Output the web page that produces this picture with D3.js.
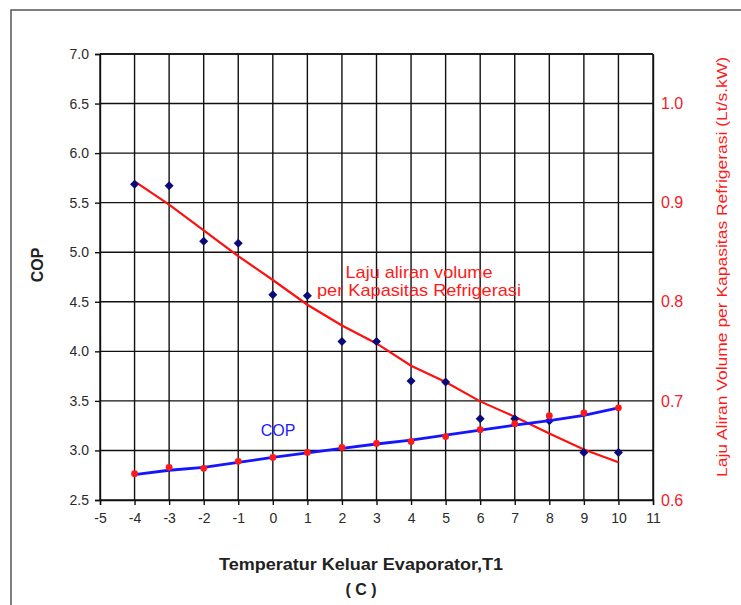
<!DOCTYPE html>
<html>
<head>
<meta charset="utf-8">
<script src="https://cdn.jsdelivr.net/npm/d3@7"></script>
<style>
  body { margin: 0; background: #fff; }
  text { font-family: "Liberation Sans", Arial, sans-serif; }
</style>
</head>
<body>
<div id="chart"></div>
<script>
// Data
var temps = [-4, -3, -2, -1, 0, 1, 2, 3, 4, 5, 6, 7, 8, 9, 10]
var copPoints = [2.765, 2.83, 2.82, 2.89, 2.93, 2.98, 3.03, 3.07, 3.09, 3.14, 3.21, 3.27, 3.35, 3.38, 3.43]
var copLine = [2.755, 2.80, 2.83, 2.88, 2.93, 2.975, 3.02, 3.065, 3.105, 3.155, 3.205, 3.255, 3.30, 3.355, 3.43]
var navyPoints = [5.685, 5.67, 5.11, 5.09, 4.57, 4.56, 4.10, 4.10, 3.70, 3.69, 3.32, 3.32, 3.30, 2.98, 2.98]
var flowLine = [0.9215, 0.898, 0.872, 0.846, 0.822, 0.797, 0.776, 0.758, 0.7355, 0.719, 0.6995, 0.684, 0.667, 0.651, 0.638]
var xTicks = d3.range(-5, 12)
var leftTicks = [2.5, 3.0, 3.5, 4.0, 4.5, 5.0, 5.5, 6.0, 6.5, 7.0]
var rightTicks = [0.6, 0.7, 0.8, 0.9, 1.0]

var svgWidth = 741,
    svgHeight = 605,
    margin = {top: 54, right: 88, bottom: 105, left: 100},
    chartWidth = svgWidth - margin.left - margin.right,
    chartHeight = svgHeight - margin.top - margin.bottom

var svg = d3.select("#chart").append("svg")
    .attr("width", svgWidth).attr("height", svgHeight)

// outer frame (runs off the right and bottom of the picture)
svg.append("rect")
    .attr("x", 11).attr("y", 10)
    .attr("width", 800).attr("height", 700)
    .attr("fill", "none").attr("stroke", "#555").attr("stroke-width", 1.5)

var g = svg.append("g").attr("transform", `translate(${margin.left}, ${margin.top})`)

var xScale = d3.scaleLinear().domain([-5, 11]).range([0, chartWidth])
var yLeft = d3.scaleLinear().domain([2.5, 7.0]).range([chartHeight, 0])
var yRight = d3.scaleLinear().domain([0.6, 1.05]).range([chartHeight, 0])

// grid
g.append("g").selectAll("line").data(xTicks).enter().append("line")
    .attr("x1", d => xScale(d)).attr("x2", d => xScale(d))
    .attr("y1", 0).attr("y2", chartHeight)
    .attr("stroke", "#111").attr("stroke-width", 1.4)
g.append("g").selectAll("line").data(leftTicks).enter().append("line")
    .attr("x1", 0).attr("x2", chartWidth)
    .attr("y1", d => yLeft(d)).attr("y2", d => yLeft(d))
    .attr("stroke", "#111").attr("stroke-width", 1.4)

// axes (plain hyphen for negatives, like the original)
var xAxis = g.append("g")
    .attr("transform", `translate(0, ${chartHeight})`)
    .call(d3.axisBottom(xScale).tickValues(xTicks).tickSize(5).tickPadding(8).tickFormat(d => String(d)))
var yAxisL = g.append("g")
    .call(d3.axisLeft(yLeft).tickValues(leftTicks).tickSize(5).tickPadding(6).tickFormat(d => d.toFixed(1)))
var yAxisR = g.append("g")
    .attr("transform", `translate(${chartWidth}, 0)`)
    .call(d3.axisRight(yRight).tickValues(rightTicks).tickSize(0).tickPadding(8).tickFormat(d => d.toFixed(1)))

;[xAxis, yAxisL, yAxisR].forEach(function(a) {
    a.select(".domain").attr("stroke", "#111").attr("stroke-width", 1.4)
    a.selectAll(".tick line").attr("stroke", "#111").attr("stroke-width", 1.4)
})
xAxis.selectAll("text").attr("font-size", 14).attr("fill", "#2a2a2a")
yAxisL.selectAll("text").attr("font-size", 14).attr("fill", "#2a2a2a")
yAxisR.selectAll("text").attr("font-size", 16).attr("fill", "#f0202a")

// top border
g.append("line").attr("x1", 0).attr("x2", chartWidth).attr("y1", 0).attr("y2", 0)
    .attr("stroke", "#111").attr("stroke-width", 1.4)

// red flow line (right axis)
var flowPath = d3.line()
    .x((d, i) => xScale(temps[i]))
    .y(d => yRight(d))
g.append("path").datum(flowLine)
    .attr("d", flowPath)
    .attr("fill", "none").attr("stroke", "#ff1010").attr("stroke-width", 2.2)

// navy markers (square turned 45 degrees)
g.append("g").selectAll("path").data(navyPoints).enter().append("path")
    .attr("transform", (d, i) => `translate(${xScale(temps[i])}, ${yLeft(d)}) rotate(45)`)
    .attr("d", d3.symbol().type(d3.symbolSquare).size(40))
    .attr("fill", "#0a0a7a")

// blue COP line
var copPath = d3.line()
    .x((d, i) => xScale(temps[i]))
    .y(d => yLeft(d))
g.append("path").datum(copLine)
    .attr("d", copPath)
    .attr("fill", "none").attr("stroke", "#1515ff").attr("stroke-width", 2.8)

// red COP markers
g.append("g").selectAll("circle").data(copPoints).enter().append("circle")
    .attr("cx", (d, i) => xScale(temps[i]))
    .attr("cy", d => yLeft(d))
    .attr("r", 3.4)
    .attr("fill", "#ff1a1a")

// series labels
g.append("text")
    .attr("x", 419 - margin.left).attr("y", 278 - margin.top)
    .attr("text-anchor", "middle").attr("font-size", 17).attr("fill", "#ff1a1a")
    .attr("textLength", 147).attr("lengthAdjust", "spacingAndGlyphs")
    .text("Laju aliran volume")
g.append("text")
    .attr("x", 419 - margin.left).attr("y", 296 - margin.top)
    .attr("text-anchor", "middle").attr("font-size", 17).attr("fill", "#ff1a1a")
    .attr("textLength", 204).attr("lengthAdjust", "spacingAndGlyphs")
    .text("per Kapasitas Refrigerasi")
g.append("text")
    .attr("x", 278 - margin.left).attr("y", 436 - margin.top)
    .attr("text-anchor", "middle").attr("font-size", 16).attr("fill", "#1a1aff")
    .text("COP")

// axis titles
svg.append("text")
    .attr("transform", "translate(43, 265) rotate(-90)")
    .attr("text-anchor", "middle").attr("font-size", 16).attr("font-weight", "bold").attr("fill", "#222")
    .text("COP")
svg.append("text")
    .attr("transform", "translate(727, 267) rotate(-90)")
    .attr("text-anchor", "middle").attr("font-size", 15).attr("fill", "#ff1a1a")
    .attr("textLength", 420).attr("lengthAdjust", "spacingAndGlyphs")
    .text("Laju Aliran Volume per Kapasitas Refrigerasi (Lt/s.kW)")
svg.append("text")
    .attr("x", 361).attr("y", 570)
    .attr("text-anchor", "middle").attr("font-size", 16).attr("font-weight", "bold").attr("fill", "#222")
    .attr("textLength", 284).attr("lengthAdjust", "spacingAndGlyphs")
    .text("Temperatur Keluar Evaporator,T1")
svg.append("text")
    .attr("x", 361).attr("y", 595)
    .attr("text-anchor", "middle").attr("font-size", 16).attr("font-weight", "bold").attr("fill", "#222")
    .attr("xml:space", "preserve")
    .text("( C )")
</script>
</body>
</html>
